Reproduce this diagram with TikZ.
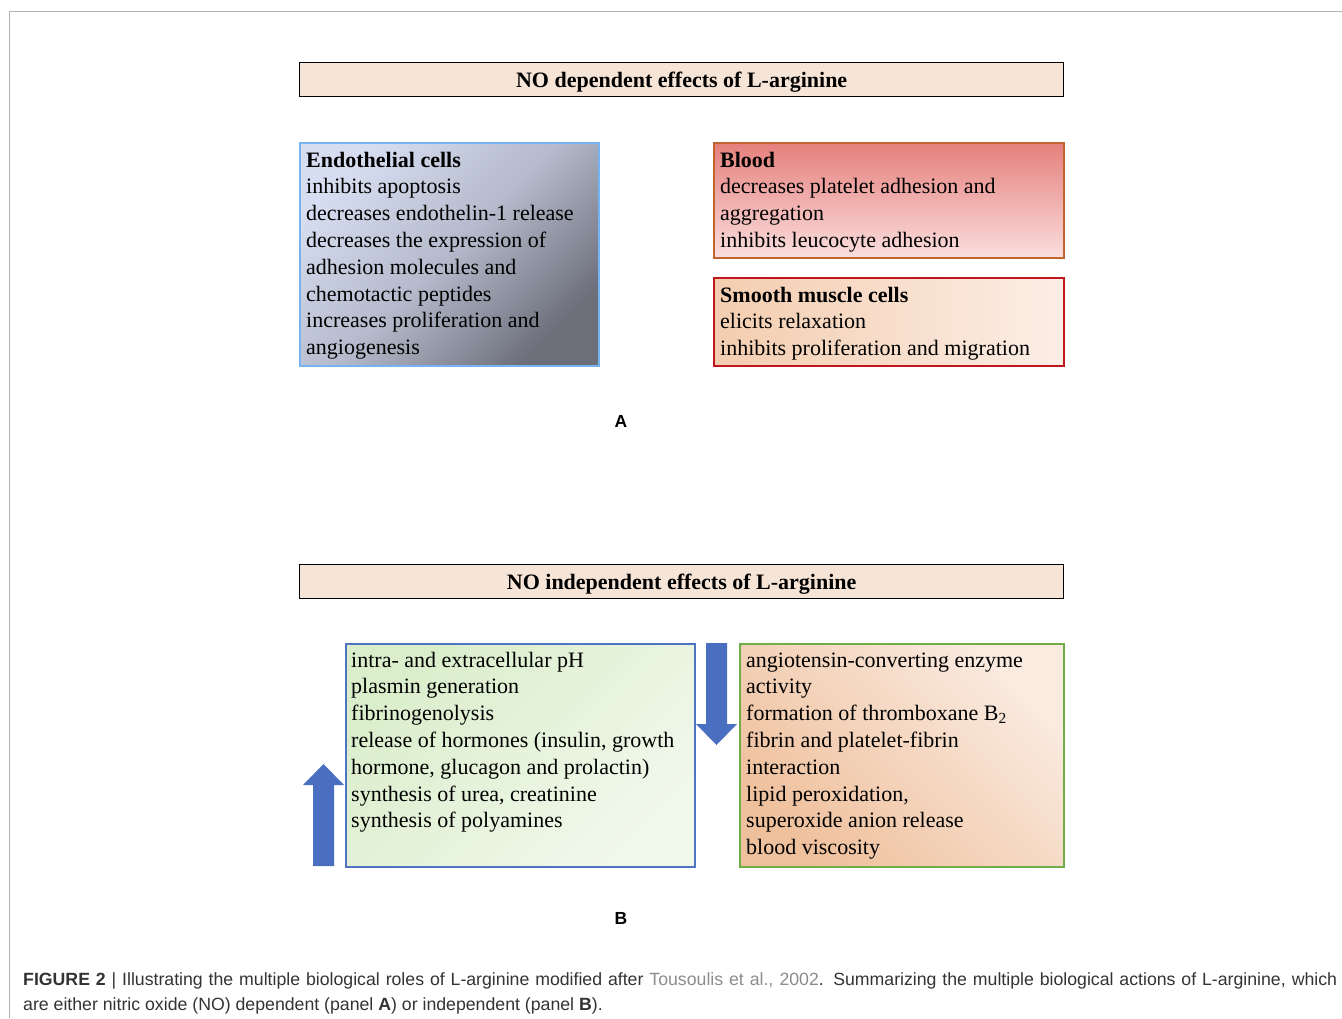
\documentclass[tikz,border=0pt]{standalone}
\usepackage{fontspec}
\setmainfont{Liberation Serif}
\newfontfamily\capfont{Liberation Sans}
\definecolor{hdrfill}{HTML}{F6E4D7}
\definecolor{arrblue}{HTML}{4A6FC1}
\definecolor{capgray}{HTML}{333333}
\definecolor{refgray}{HTML}{8C8C8C}
\definecolor{endoline}{HTML}{75B4F0}
\definecolor{endotop}{HTML}{D6DDF0}
\definecolor{endomid}{HTML}{B4BACB}
\definecolor{endobot}{HTML}{6C6E7A}
\definecolor{bloodline}{HTML}{C0652D}
\definecolor{bloodtop}{HTML}{E5807C}
\definecolor{bloodbot}{HTML}{FADEDE}
\definecolor{smline}{HTML}{C2161E}
\definecolor{smleft}{HTML}{F4CDAF}
\definecolor{smright}{HTML}{FBEEE6}
\definecolor{upline}{HTML}{4F74C2}
\definecolor{uptop}{HTML}{DAEECB}
\definecolor{upbot}{HTML}{F1F8EC}
\definecolor{downline}{HTML}{70AD47}
\definecolor{downtop}{HTML}{FAEBE1}
\definecolor{downbot}{HTML}{EFC09C}
\tikzset{
	hdr/.style={draw=black,line width=1.3pt,fill=hdrfill,minimum width=764pt,minimum height=34pt,inner sep=0pt,
		text height=18pt,text depth=2pt,anchor=north west,font=\bfseries\fontsize{22}{26.8}\selectfont},
	boxframe/.style n args={3}{draw=#1,line width=1.6pt,inner sep=0pt,anchor=north west,minimum width=#2,minimum height=#3},
	txt/.style={align=left,inner sep=0pt,anchor=base west,font=\fontsize{22}{26.8}\selectfont},
	panel/.style={inner sep=0pt,anchor=base,font=\capfont\bfseries\fontsize{17.5}{20}\selectfont},
	captxt/.style={inner sep=0pt,anchor=base west,text=capgray,font=\capfont\fontsize{17.7}{25}\selectfont}
}

\begin{document}
\begin{tikzpicture}[x=1pt,y=-1pt]
	\useasboundingbox (0,0) rectangle (1342,1018);
	\draw[line width=1pt,draw=black!30] (9,1018) -- (9,11) -- (1342,11);

	% panel A (text nodes sit on the baseline of their last line)
	\node [hdr] (hdrA) at (299,62) {NO dependent effects of L-arginine};
	\node [boxframe={endoline}{299pt}{223pt},top color=endotop,bottom color=endobot,middle color=endomid,shading angle=45] (endo) at (299,142) {};
	\node [boxframe={bloodline}{350pt}{115pt},top color=bloodtop,bottom color=bloodbot] (blood) at (713,142) {};
	\node [boxframe={smline}{350pt}{88pt},left color=smleft,right color=smright] (smooth) at (713,277) {};
	\node [txt] (endotxt) at (306,354.6) {\textbf{Endothelial cells}\\inhibits apoptosis\\decreases endothelin-1 release\\decreases the expression of\\adhesion molecules and\\chemotactic peptides\\increases proliferation and\\angiogenesis};
	\node [txt] (bloodtxt) at (720,247.4) {\textbf{Blood}\\decreases platelet adhesion and\\aggregation\\inhibits leucocyte adhesion};
	\node [txt] (smoothtxt) at (720,355.6) {\textbf{Smooth muscle cells}\\elicits relaxation\\inhibits proliferation and migration};
	\node [panel] (labA) at (621,427) {A};

	% panel B
	\node [hdr] (hdrB) at (299,564) {NO independent effects of L-arginine};
	\node [boxframe={upline}{349pt}{223pt},top color=uptop,bottom color=upbot,shading angle=45] (up) at (345,643) {};
	\node [boxframe={downline}{324pt}{223pt},top color=downtop,bottom color=downbot,shading angle=-45] (down) at (739,643) {};
	\node [txt] (uptxt) at (351,827.8) {intra- and extracellular pH\\plasmin generation\\fibrinogenolysis\\release of hormones (insulin, growth\\hormone, glucagon and prolactin)\\synthesis of urea, creatinine\\synthesis of polyamines};
	\node [txt] (downtxt) at (746,854.6) {angiotensin-converting enzyme\\activity\\formation of thromboxane B\textsubscript{2}\\fibrin and platelet-fibrin\\interaction\\lipid peroxidation,\\superoxide anion release\\blood viscosity};
	\fill [arrblue] (313,866) -- (334,866) -- (334,785) -- (344,785) -- (323.5,764) -- (303,785) -- (313,785) -- cycle;
	\fill [arrblue] (706,643) -- (727,643) -- (727,724) -- (737,724) -- (716.5,745) -- (696,724) -- (706,724) -- cycle;
	\node [panel] (labB) at (621,924) {B};

	% caption
	\node [captxt] (cap1) at (23,985) {\makebox[1314pt][s]{\textbf{FIGURE 2} | Illustrating the multiple biological roles of L-arginine modified after \textcolor{refgray}{Tousoulis et al., 2002}. Summarizing the multiple biological actions of L-arginine, which}};
	\node [captxt] (cap2) at (23,1010) {are either nitric oxide (NO) dependent (panel \textbf{A}) or independent (panel \textbf{B}).};
\end{tikzpicture}
\end{document}
